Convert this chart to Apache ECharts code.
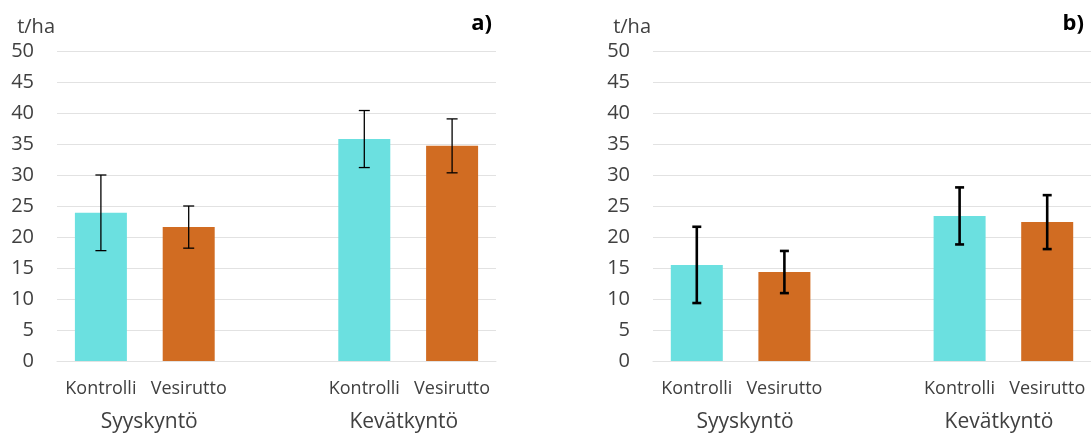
<!DOCTYPE html>
<html>
<head>
<meta charset="utf-8">
<script src="https://cdn.jsdelivr.net/npm/echarts@6/dist/echarts.min.js"></script>
<style>
  html, body { margin: 0; padding: 0; background: #fff; }
  #chart { width: 1091px; height: 434px; }
</style>
</head>
<body>
<div id="chart"></div>
<script>
// Treatments along the x axis; the empty slot separates the two ploughing groups
const categories = ['Kontrolli', 'Vesirutto', '', 'Kontrolli', 'Vesirutto'];
const groups = ['Syyskyntö', 'Kevätkyntö'];
const groupCenters = [1.05, 3.95];          // in category units along the axis
const yTicks = [0, 5, 10, 15, 20, 25, 30, 35, 40, 45, 50];
const unitLabel = 't/ha';
const panelTitles = ['a)', 'b)'];

// Panel a) yields and error half-widths (t/ha)
const yieldA = [23.9, 21.6, null, 35.8, 34.7];
const errA   = [6.1, 3.4, null, 4.6, 4.35];
// Panel b) yields and error half-widths (t/ha)
const yieldB = [15.5, 14.35, null, 23.4, 22.4];
const errB   = [6.15, 3.4, null, 4.6, 4.35];

const TEAL = '#6BE0E0';
const ORANGE = '#D16C22';
const TEXT = '#404040';
const GRID = '#E2E2E2';
const FONT = '"Open Sans", "Noto Sans", sans-serif';

function barData(values) {
  return values.map((v, i) => v == null ? null : {
    value: v,
    itemStyle: { color: categories[i] === 'Kontrolli' ? TEAL : ORANGE }
  });
}

function errData(values, errs) {
  const out = [];
  values.forEach((v, i) => {
    if (v != null) out.push([i, v - errs[i], v + errs[i]]);
  });
  return out;
}

function errorRenderer(lineWidth, capWidth) {
  return function (params, api) {
    const x = api.value(0);
    const top = api.coord([x, api.value(2)]);
    const bot = api.coord([x, api.value(1)]);
    const h = capWidth / 2;
    const style = { stroke: '#000', lineWidth: lineWidth };
    return {
      type: 'group',
      children: [
        { type: 'line', shape: { x1: top[0], y1: top[1], x2: bot[0], y2: bot[1] }, style },
        { type: 'line', shape: { x1: top[0] - h, y1: top[1], x2: top[0] + h, y2: top[1] }, style },
        { type: 'line', shape: { x1: bot[0] - h, y1: bot[1], x2: bot[0] + h, y2: bot[1] }, style }
      ]
    };
  };
}

const grids = [
  { left: 57, top: 51, width: 439, bottom: 73 },
  { left: 653, top: 51, width: 439, bottom: 73 }
];

const xAxes = [];
const yAxes = [];
const series = [];
const titles = [];

[[yieldA, errA, 1.3, 11], [yieldB, errB, 2.6, 9]].forEach(([vals, errs, lw, cap], g) => {
  xAxes.push({
    type: 'category', gridIndex: g, data: categories,
    axisLine: { show: true, lineStyle: { color: GRID, width: 1 } },
    axisTick: { show: false },
    axisLabel: { color: TEXT, fontFamily: FONT, fontSize: 18, margin: 19, interval: 0 }
  });
  // Second bottom axis carries the group names centred under each pair
  xAxes.push({
    type: 'value', gridIndex: g, min: 0, max: categories.length, position: 'bottom',
    axisLine: { show: false }, axisTick: { show: false }, splitLine: { show: false },
    axisLabel: {
      color: TEXT, fontFamily: FONT, fontSize: 21, margin: 51,
      customValues: groupCenters,
      formatter: v => {
        const k = groupCenters.findIndex(c => Math.abs(c - v) < 1e-6);
        return k >= 0 ? groups[k] : '';
      }
    }
  });
  yAxes.push({
    type: 'value', gridIndex: g, min: yTicks[0], max: yTicks[yTicks.length - 1],
    interval: yTicks[1] - yTicks[0],
    name: unitLabel, nameLocation: 'end', nameGap: 14,
    nameTextStyle: { color: TEXT, fontFamily: FONT, fontSize: 20, align: 'right', padding: [0, 2, 0, 0] },
    axisLine: { show: false }, axisTick: { show: false },
    axisLabel: { color: TEXT, fontFamily: FONT, fontSize: 20, margin: 23 },
    splitLine: { show: true, lineStyle: { color: GRID, width: 1 } }
  });
  series.push({
    type: 'bar', xAxisIndex: g * 2, yAxisIndex: g,
    data: barData(vals), barWidth: 52, silent: true
  });
  series.push({
    type: 'custom', xAxisIndex: g * 2, yAxisIndex: g,
    data: errData(vals, errs), encode: { x: 0, y: [1, 2] },
    renderItem: errorRenderer(lw, cap), silent: true, z: 5
  });
});

titles.push({ text: panelTitles[0], right: 1091 - 497, top: 8,
  textStyle: { color: '#000', fontFamily: FONT, fontSize: 22, fontWeight: 'bold' } });
titles.push({ text: panelTitles[1], right: 2, top: 8,
  textStyle: { color: '#000', fontFamily: FONT, fontSize: 22, fontWeight: 'bold' } });

const chart = echarts.init(document.getElementById('chart'), null, { renderer: 'canvas' });
chart.setOption({
  animation: false,
  backgroundColor: '#fff',
  title: titles,
  grid: grids,
  xAxis: xAxes,
  yAxis: yAxes,
  series: series
});
</script>
</body>
</html>
